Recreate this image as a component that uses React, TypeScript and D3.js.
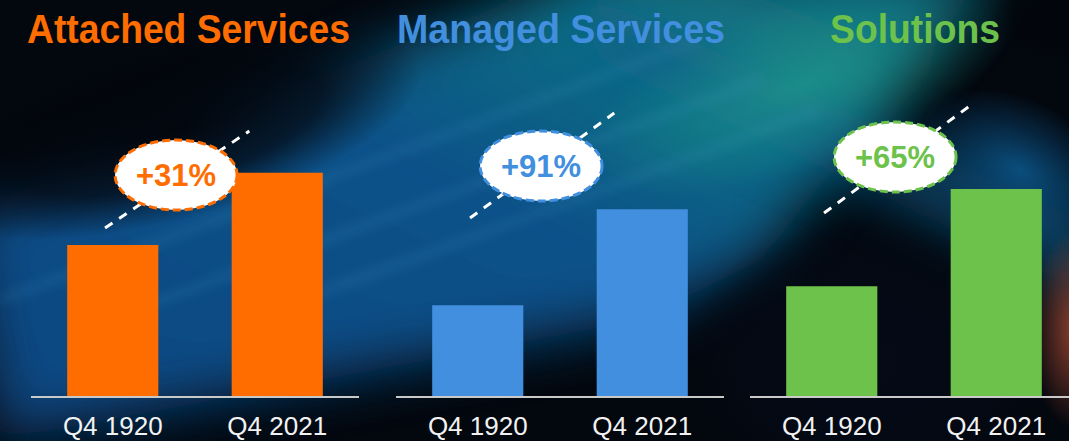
import React from 'react';
import * as d3 from 'd3';

const categories = ['Q4 1920', 'Q4 2021'];
const segments = ['Attached Services', 'Managed Services', 'Solutions'];
const attachedValues = [60.8, 89.7];
const managedValues = [36.7, 75.1];
const solutionsValues = [44.3, 83.2];
const growthLabels = ['+31%', '+91%', '+65%'];
const trendStartValue = [67.6, 71.6, 73.6];
const trendEndValue = [106.4, 113.6, 116.0];
const bubbleValue = [88.8, 92.4, 96.0];

const seriesValues = [attachedValues, managedValues, solutionsValues];
const colors = ['#ff6c00', '#418fde', '#6cc24a'];

const W = 1069;
const H = 441;
const panelLeft = [31, 396, 750];
const panelWidth = 328;
const titleLeft = [-4, 1, 80];
const titleWidth = [323, 328, 170];
const baseline = 397;
const FONT = '"Liberation Sans", Arial, Helvetica, sans-serif';

export default function App() {
  const x = d3.scaleBand<string>().domain(categories).range([0, panelWidth]).paddingInner(0.446).paddingOuter(0.22);
  const y = d3.scaleLinear().domain([0, 100]).range([baseline, baseline - 250]);
  const bw = x.bandwidth();
  const idx = d3.scaleLinear().domain([0, 1]).range([x(categories[0])! + bw / 2, x(categories[1])! + bw / 2]);
  const trendFrom = -0.047;
  const trendTo = 0.83;
  const bubblePos = 0.385;

  return (
    <svg width={W} height={H} style={{ position: 'absolute', left: 0, top: 0, display: 'block' }} fontFamily={FONT}>
      <defs>
        <filter id="blur30" x="-50%" y="-50%" width="200%" height="200%">
          <feGaussianBlur stdDeviation="28" />
        </filter>
        <filter id="blur6" x="-50%" y="-50%" width="200%" height="200%">
          <feGaussianBlur stdDeviation="6" />
        </filter>
        <linearGradient id="bandGrad" x1="0" y1="1" x2="1" y2="0">
          <stop offset="0" stopColor="#0a4a86" />
          <stop offset="0.5" stopColor="#0b5590" />
          <stop offset="0.8" stopColor="#137c88" />
          <stop offset="1" stopColor="#0d5a7a" />
        </linearGradient>
        <radialGradient id="darkGlow">
          <stop offset="0" stopColor="#040a16" stopOpacity={0.95} />
          <stop offset="0.6" stopColor="#040a16" stopOpacity={0.75} />
          <stop offset="1" stopColor="#040a16" stopOpacity={0} />
        </radialGradient>
        <radialGradient id="blackGlow">
          <stop offset="0" stopColor="#02050b" stopOpacity={0.95} />
          <stop offset="0.6" stopColor="#02050b" stopOpacity={0.7} />
          <stop offset="1" stopColor="#02050b" stopOpacity={0} />
        </radialGradient>
        <radialGradient id="tealGlow">
          <stop offset="0" stopColor="#1f9a8c" stopOpacity={0.7} />
          <stop offset="1" stopColor="#1f9a8c" stopOpacity={0} />
        </radialGradient>
        <radialGradient id="blueGlow">
          <stop offset="0" stopColor="#0d5c94" stopOpacity={0.8} />
          <stop offset="1" stopColor="#0d5c94" stopOpacity={0} />
        </radialGradient>
        <radialGradient id="redGlow">
          <stop offset="0" stopColor="#9a4530" stopOpacity={0.9} />
          <stop offset="1" stopColor="#9a4530" stopOpacity={0} />
        </radialGradient>
      </defs>
      {/* background */}
      <rect x={0} y={0} width={W} height={H} fill="#03070e" />
      <polygon points="-40,215 620,-40 1000,-40 760,260 640,320 0,440" fill="url(#bandGrad)" filter="url(#blur30)" opacity={0.95} />
      <polygon points="560,-20 1100,230 1100,300 600,60" fill="#0e5f8c" filter="url(#blur30)" opacity={0.7} />
      <ellipse cx={800} cy={85} rx={230} ry={85} transform="rotate(-20 800 85)" fill="url(#tealGlow)" />
      <ellipse cx={1020} cy={170} rx={110} ry={70} transform="rotate(30 1020 170)" fill="url(#blueGlow)" />
      <ellipse cx={870} cy={360} rx={190} ry={140} fill="url(#darkGlow)" />
      <ellipse cx={1075} cy={330} rx={45} ry={100} fill="url(#redGlow)" />
      <ellipse cx={1069} cy={20} rx={80} ry={45} fill="url(#blackGlow)" />
      <ellipse cx={170} cy={130} rx={260} ry={90} transform="rotate(-15 170 130)" fill="url(#blackGlow)" />
      <g opacity={0.22} filter="url(#blur6)" stroke="#4fa8d8" strokeWidth={6}>
        <line x1={0} y1={300} x2={700} y2={40} />
        <line x1={80} y1={330} x2={760} y2={80} />
        <line x1={300} y1={300} x2={820} y2={110} />
      </g>

      {segments.map((seg, i) => {
        const vals = seriesValues[i];
        const color = colors[i];
        const bx = idx(bubblePos);
        const by = y(bubbleValue[i]);
        return (
          <g key={seg} transform={`translate(${panelLeft[i]},0)`}>
            <text
              x={titleLeft[i]}
              y={43}
              fontWeight="bold"
              fontSize={40}
              textLength={titleWidth[i]}
              lengthAdjust="spacingAndGlyphs"
              fill={color}
            >
              {seg}
            </text>
            {categories.map((c, j) => (
              <rect key={c} x={x(c)} y={y(vals[j])} width={bw} height={y(0) - y(vals[j])} fill={color} />
            ))}
            <line x1={0} x2={panelWidth} y1={baseline} y2={baseline} stroke="#c9c9c9" strokeWidth={2} />
            {categories.map((c) => (
              <text key={c} x={x(c)! + bw / 2} y={435} textAnchor="middle" fontSize={26} fill="#f2f2f2">
                {c}
              </text>
            ))}
            <line
              x1={idx(trendFrom)}
              y1={y(trendStartValue[i])}
              x2={idx(trendTo)}
              y2={y(trendEndValue[i])}
              stroke="#ffffff"
              strokeWidth={3}
              strokeDasharray="9 8"
            />
            <ellipse cx={bx} cy={by} rx={61} ry={35} fill="#ffffff" stroke={color} strokeWidth={3} strokeDasharray="8 4" />
            <text x={bx} y={by + 11} textAnchor="middle" fontWeight="bold" fontSize={31} fill={color}>
              {growthLabels[i]}
            </text>
          </g>
        );
      })}
    </svg>
  );
}
